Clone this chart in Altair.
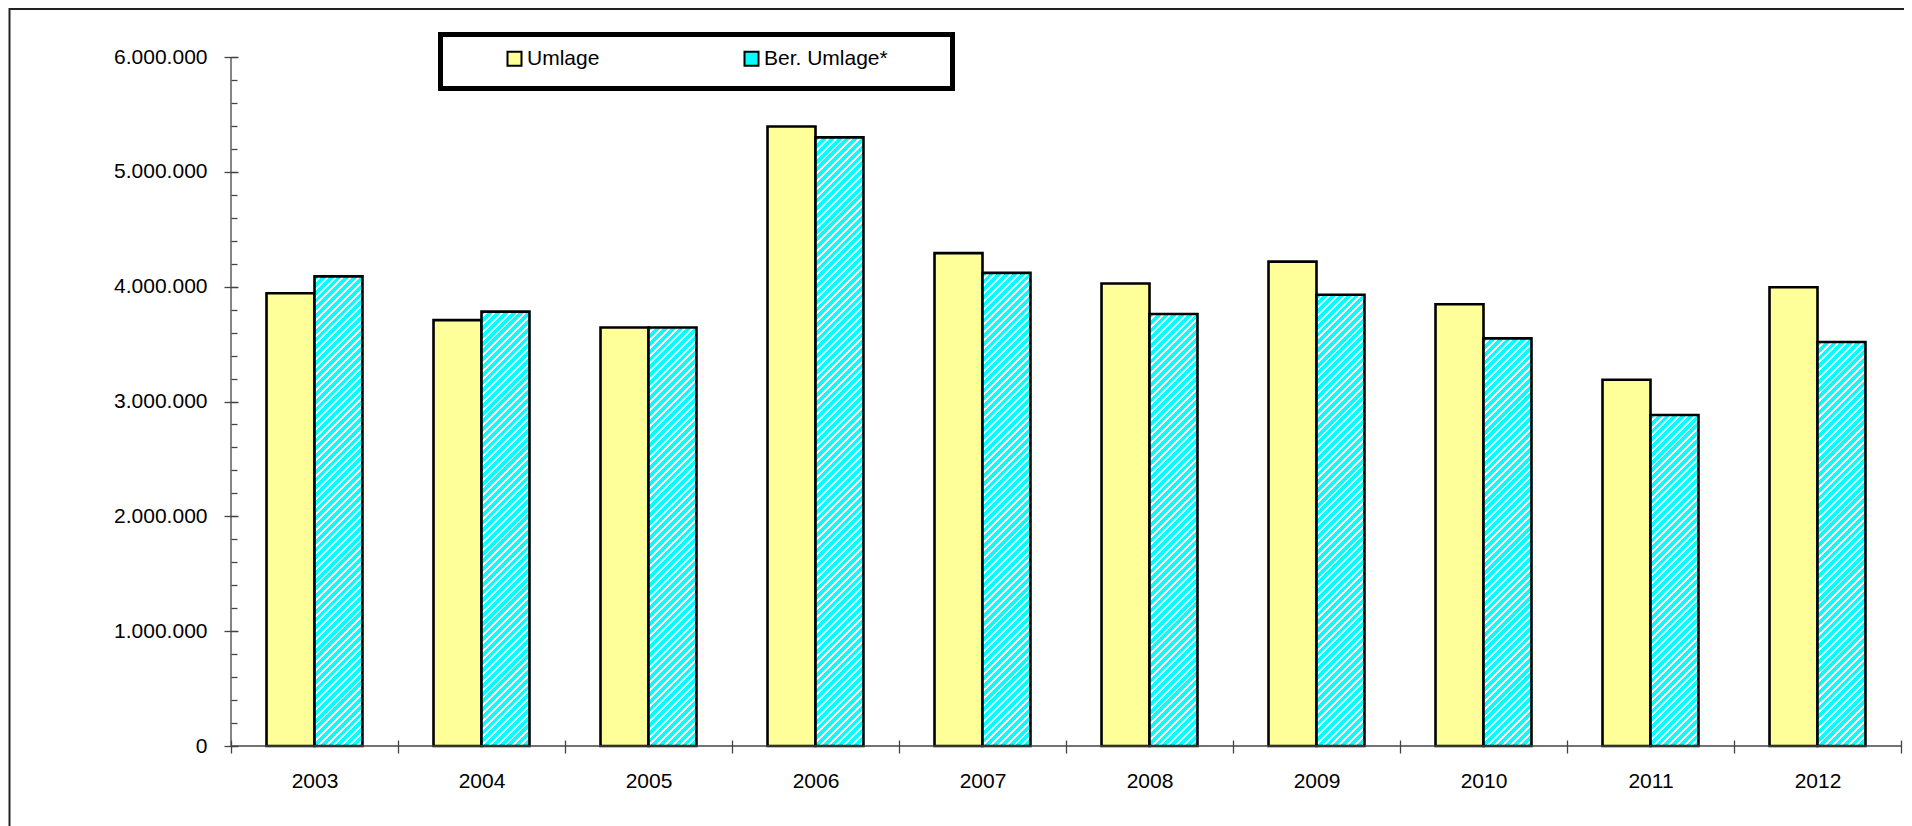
import math
import altair as alt
import pandas as pd

years = ["2003", "2004", "2005", "2006", "2007", "2008", "2009", "2010", "2011", "2012"]
umlage = [3943000, 3709000, 3645000, 5395000, 4292000, 4027000, 4218000, 3847000, 3190000, 3995000]
ber_umlage = [4090000, 3783000, 3645000, 5300000, 4120000, 3762000, 3930000, 3550000, 2882000, 3518000]
series_names = ["Umlage", "Ber. Umlage*"]
series_colors = ["#FFFF99", "#00FFFF"]
y_major = [0, 1000000, 2000000, 3000000, 4000000, 5000000, 6000000]
y_minor = list(range(0, 6000001, 200000))

W, H = 1670, 689
FONT = "Liberation Sans"
FS = 21

rows = []
for i, yr in enumerate(years):
    rows.append({"year": yr, "series": series_names[0], "value": umlage[i]})
    rows.append({"year": yr, "series": series_names[1], "value": ber_umlage[i]})
df = pd.DataFrame(rows)

# hatch ("////" white stripes on cyan) built as a linear gradient per bar
BAR_W = (W / len(years)) / (2 + 2 * 0.74)
PERIOD = 5.5
FRAC = 0.62


def stripes(value):
    h = value / 6000000 * H
    w = BAR_W
    a = (w + h) * w / (w * w + h * h)
    b = a * h / w
    n = (w + h) / (PERIOD * math.sqrt(2))
    stops = []
    k = 0
    while k / n < 1:
        o0 = k / n
        o1 = min((k + FRAC) / n, 1)
        o2 = min((k + 1) / n, 1)
        stops += [
            {"offset": o0, "color": "#00FFFF"},
            {"offset": o1, "color": "#00FFFF"},
            {"offset": o1, "color": "#E8FFFF"},
            {"offset": o2, "color": "#E8FFFF"},
        ]
        k += 1
    return {"gradient": "linear", "x1": 0, "y1": 0, "x2": a, "y2": b, "stops": stops}


conds = []
for i, yr in enumerate(years):
    conds.append({
        "test": f"datum.series === '{series_names[1]}' && datum.year === '{yr}'",
        "value": stripes(ber_umlage[i]),
    })

bars = alt.Chart(df).mark_bar(stroke="black", strokeWidth=2.6, strokeJoin="miter").encode(
    x=alt.X("year:N", sort=years, title=None,
            scale=alt.Scale(paddingInner=0, paddingOuter=0),
            axis=alt.Axis(offset=-6, tickSize=13, domain=False, tickBand="extent",
                          labelAngle=0, labelFontSize=FS, labelFont=FONT, labelColor="black",
                          labelPadding=17, tickColor="#444", tickWidth=1.3)),
    xOffset=alt.XOffset("series:N", sort=series_names,
                        scale=alt.Scale(paddingOuter=0.74, paddingInner=0)),
    y=alt.Y("value:Q", title=None, scale=alt.Scale(domain=[0, 6000000], nice=False),
            axis=alt.Axis(orient="left", values=y_major, format=",d", offset=-7, tickSize=14,
                          domain=False, labelFontSize=FS, labelFont=FONT, labelColor="black",
                          labelPadding=17, tickColor="#444", tickWidth=1.3)),
    fill=alt.Fill("series:N", sort=series_names,
                  scale=alt.Scale(domain=series_names, range=series_colors),
                  legend=alt.Legend(orient="none", legendX=273, legendY=-9, direction="horizontal",
                                    title=None, symbolType="square", symbolSize=196,
                                    symbolStrokeColor="black", symbolStrokeWidth=2,
                                    labelFontSize=FS, labelFont=FONT, labelColor="black",
                                    labelOffset=2, columnPadding=140, padding=0),
                  condition=conds),
)

axis_df = pd.DataFrame({"v0": [0], "v1": [6000000]})
y_domain = alt.Chart(axis_df).mark_rule(color="#444", strokeWidth=1.3).encode(
    x=alt.value(0),
    y=alt.Y("v0:Q", title=None, scale=alt.Scale(domain=[0, 6000000], nice=False),
            axis=alt.Axis(orient="left", values=y_minor, offset=-6, tickSize=6, labels=False,
                          title=None, domain=False, tickColor="#444", tickWidth=1.3)),
    y2="v1:Q",
)
x_domain = alt.Chart(axis_df).mark_rule(color="#444", strokeWidth=1.3).encode(
    x=alt.value(0), x2=alt.value(W), y=alt.Y("v0:Q", axis=None),
)

frame_df = pd.DataFrame({"k": [0]})
legend_box = alt.Chart(frame_df).mark_rect(fill=None, stroke="black", strokeWidth=5).encode(
    x=alt.value(209.5), x2=alt.value(721.5), y=alt.value(-22.5), y2=alt.value(31.5),
)
outer_box = alt.Chart(frame_df).mark_rect(fill=None, stroke="#222", strokeWidth=2).encode(
    x=alt.value(-221.5), x2=alt.value(W + 60), y=alt.value(-48), y2=alt.value(H + 200),
)

chart = alt.layer(outer_box, legend_box, bars, y_domain, x_domain).resolve_axis(
    y="independent"
).properties(
    width=W, height=H,
    autosize=alt.AutoSizeParams(type="none"),
    padding={"left": 223, "top": 49, "right": 3, "bottom": 80},
).configure(
    locale={"number": {"decimal": ",", "thousands": ".", "grouping": [3], "currency": ["", " €"]}},
).configure_view(stroke=None).configure_axis(grid=False)

chart.save("out.html", embed_options={"renderer": "svg", "actions": False})
